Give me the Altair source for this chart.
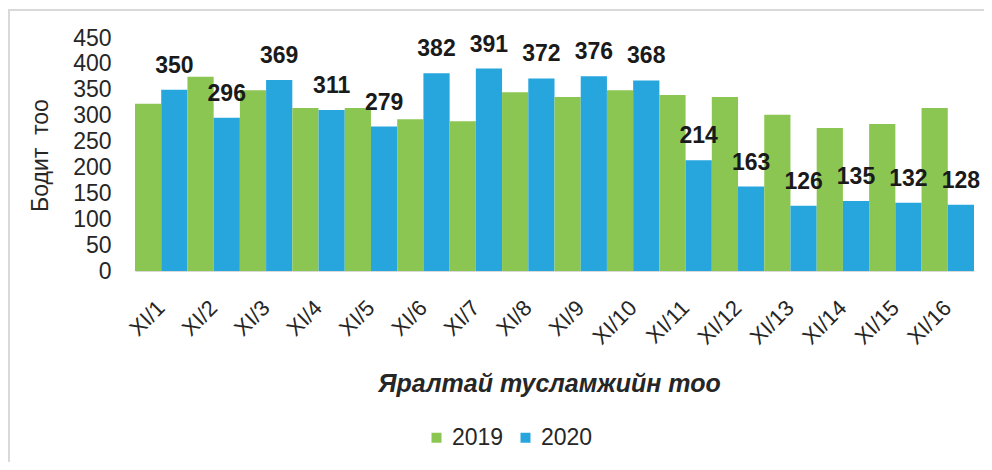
import altair as alt
import pandas as pd

days = ["XI/1", "XI/2", "XI/3", "XI/4", "XI/5", "XI/6", "XI/7", "XI/8",
        "XI/9", "XI/10", "XI/11", "XI/12", "XI/13", "XI/14", "XI/15", "XI/16"]
v2019 = [323, 375, 349, 315, 315, 293, 289, 345, 336, 349, 340, 336, 302, 276, 284, 315]
v2020 = [350, 296, 369, 311, 279, 382, 391, 372, 376, 368, 214, 163, 126, 135, 132, 128]
years = ["2019", "2020"]
colors = ["#8BC652", "#27A6DE"]
y_ticks = [0, 50, 100, 150, 200, 250, 300, 350, 400, 450]

rows = []
for d, a, b in zip(days, v2019, v2020):
    rows.append({"day": d, "year": "2019", "value": a})
    rows.append({"day": d, "year": "2020", "value": b})
df = pd.DataFrame(rows)

FONT = "Liberation Sans"

x_enc = alt.X("day:N", sort=days, scale=alt.Scale(paddingInner=0, paddingOuter=0),
              axis=alt.Axis(title="Яралтай тусламжийн тоо", labelAngle=-45, labelAlign="right",
                            labelBaseline="middle", labelPadding=33, labelFontSize=22,
                            labelColor="#262626", ticks=False, domainColor="#d9d9d9",
                            labelOverlap=False,
                            titleFontSize=25, titleFontStyle="italic", titleFontWeight="bold",
                            titleColor="#262626", titleX=414, titleY=112,
                            titleBaseline="middle", titleAnchor="start", titleAlign="center"))

y_enc = alt.Y("value:Q", scale=alt.Scale(domain=[0, 450]),
              axis=alt.Axis(title="Бодит \u00a0тоо", values=y_ticks, grid=False,
                            domain=False, ticks=False, labelPadding=24, labelFontSize=23,
                            labelOverlap=False, labelColor="#262626",
                            titleFontSize=23, titleFontWeight="normal",
                            titleColor="#262626", titleX=-95, titleY=117, titleAngle=-90,
                            titleAlign="center", titleBaseline="middle", titleAnchor="start"))

xo_enc = alt.XOffset("year:N", sort=years,
                     scale=alt.Scale(domain=years, paddingInner=0, paddingOuter=0))

base = alt.Chart(df).encode(x=x_enc, y=y_enc, xOffset=xo_enc)

bars = base.mark_bar().encode(
    color=alt.Color("year:N", sort=years, scale=alt.Scale(domain=years, range=colors),
                    legend=alt.Legend(title=None, orient="none", legendX=290, legendY=388,
                                      direction="horizontal", symbolType="square",
                                      symbolSize=100, symbolStrokeWidth=0, labelFontSize=23,
                                      labelColor="#262626", labelOffset=4, columnPadding=10,
                                      padding=0)),
)

labels = base.transform_filter(alt.datum.year == "2020").mark_text(
    baseline="middle", dy=-24, fontSize=23, fontWeight="bold", color="#1a1a1a", font=FONT
).encode(text="value:Q")

frame = pd.DataFrame({"k": [0]})
left_line = alt.Chart(frame).mark_rule(color="#d9d9d9", strokeWidth=2).encode(
    x=alt.value(-126), y=alt.value(-28), y2=alt.value(440))
top_line = alt.Chart(frame).mark_rule(color="#d9d9d9", strokeWidth=2).encode(
    x=alt.value(-127), x2=alt.value(860), y=alt.value(-28))

chart = alt.layer(bars, labels, left_line, top_line).properties(
    width=839, height=233,
    autosize=alt.AutoSizeParams(type="none"),
    padding={"left": 127, "top": 30, "right": 10, "bottom": 191},
).configure(font=FONT).configure_view(stroke=None)

chart.save("out.html", embed_options={"renderer": "svg", "actions": False})
